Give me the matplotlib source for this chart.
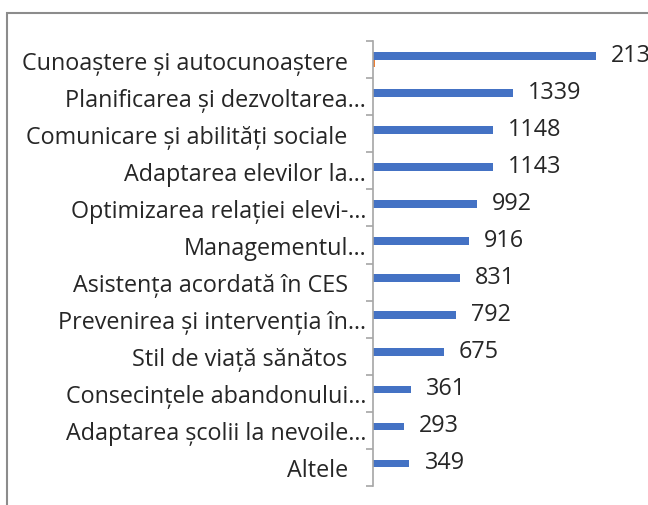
import matplotlib
matplotlib.use("Agg")
import matplotlib.pyplot as plt
import numpy as np
from matplotlib.patches import Rectangle

categories = [
    "Cunoaștere și autocunoaștere   ",
    "Planificarea și dezvoltarea…",
    "Comunicare și abilități sociale   ",
    "Adaptarea elevilor la…",
    "Optimizarea relației elevi-…",
    "Managementul…",
    "Asistența acordată în CES   ",
    "Prevenirea și intervenția în…",
    "Stil de viață sănătos   ",
    "Consecințele abandonului…",
    "Adaptarea școlii la nevoile…",
    "Altele   ",
]
series1 = [2130, 1339, 1148, 1143, 992, 916, 831, 792, 675, 361, 293, 349]
series2 = [15, 0, 0, 0, 0, 0, 0, 0, 0, 0, 0, 0]

W, H = 648, 506
fig = plt.figure(figsize=(W / 100, H / 100), dpi=100)
font = ["Open Sans", "DejaVu Sans"]
txt_color = "#262626"

ax_left, ax_right_px = 373, 640
ax_top, ax_bot = 42, 487
ax = fig.add_axes([ax_left / W, (H - ax_bot) / H, (ax_right_px - ax_left) / W, (ax_bot - ax_top) / H])

n = len(categories)
y = np.arange(n)
bw = 0.21
ax.barh(y - bw / 2, series1, height=bw, color="#4472C4")
ax.barh(y + bw / 2, series2, height=bw, color="#ED7D31")
ax.set_ylim(n - 0.5, -0.5)
ax.set_xlim(0, (ax_right_px - ax_left) / 0.10455)

for yi, v in zip(y, series1):
    ax.text(v + 145, yi - bw / 2 - 0.03, str(v), va="center", ha="left", fontsize=16.8,
            family=font, color=txt_color, clip_on=False)

ax.set_yticks(y)
ax.set_yticklabels(categories, fontsize=16.8, family=font, color=txt_color)
ax.tick_params(axis="y", which="major", length=0, pad=5)
ax.set_yticks(np.arange(-0.5, n, 1), minor=True)
ax.tick_params(axis="y", which="minor", length=5, color="#A6A6A6", width=1.2)
ax.set_xticks([])
for s in ["top", "right", "bottom"]:
    ax.spines[s].set_visible(False)
ax.spines["left"].set_color("#A6A6A6")
ax.spines["left"].set_linewidth(1.2)

fig.patches.append(Rectangle((6.5 / W, -0.1), 1.2, (H - 13.5) / H + 0.1, transform=fig.transFigure,
                             fill=False, edgecolor="#8C8C8C", linewidth=1.5))

fig.savefig("out.png", dpi=100)
